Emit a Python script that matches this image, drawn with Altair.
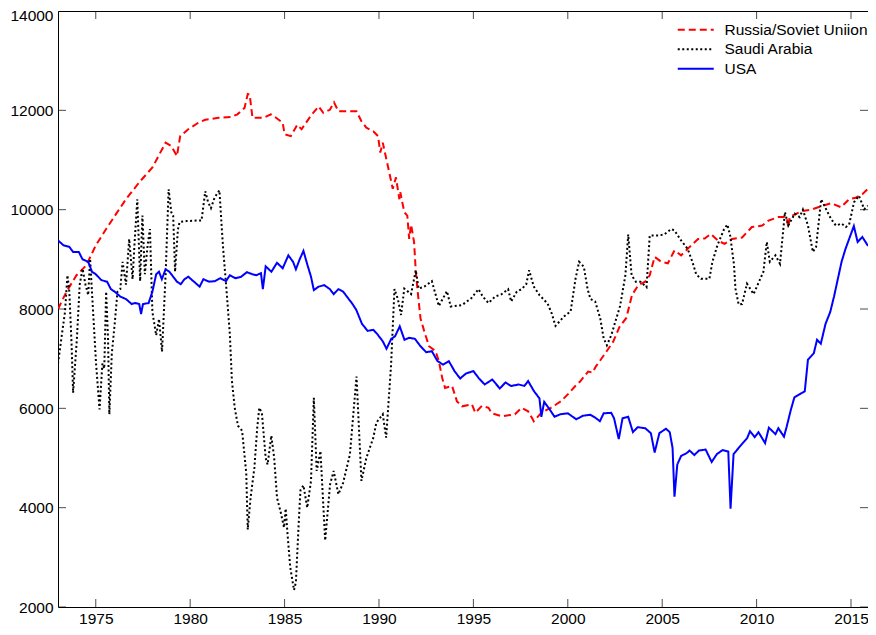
import altair as alt
import pandas as pd

# ---------------- data ----------------
series_names = ["Russia/Soviet Uniion", "Saudi Arabia", "USA"]
series_colors = ["#ff0000", "#000000", "#0000ff"]
series_dashes = [[7, 4], [2, 2.5], [1, 0]]

x_ticks = [1975, 1980, 1985, 1990, 1995, 2000, 2005, 2010, 2015]
y_ticks = [2000, 4000, 6000, 8000, 10000, 12000, 14000]

russia_year = [1973.0, 1973.45, 1973.98, 1974.5, 1975.0, 1975.55, 1976.07, 1976.6, 1977.3, 1978.0,
               1978.7, 1979.0, 1979.3, 1979.47, 1979.9, 1980.43, 1980.8, 1981.5, 1982.2, 1982.5,
               1982.88, 1983.05, 1983.15, 1983.3, 1983.9, 1984.27, 1984.55, 1984.9, 1985.0, 1985.33,
               1985.67, 1985.9, 1986.37, 1986.8, 1987.05, 1987.4, 1987.62, 1987.85, 1988.29, 1988.81,
               1989.07, 1989.33, 1989.7, 1989.95, 1990.07, 1990.2, 1990.47, 1990.73, 1990.9, 1991.08,
               1991.13, 1991.34, 1991.5, 1991.6, 1991.7, 1991.86, 1991.95, 1992.05, 1992.2, 1992.4,
               1992.65, 1993.0, 1993.17, 1993.35, 1993.5, 1993.87, 1994.13, 1994.4, 1994.92, 1995.1,
               1995.45, 1995.8, 1995.97, 1996.5, 1997.2, 1997.55, 1997.9, 1998.2, 1998.6, 1999.1,
               1999.63, 2000.0, 2000.4, 2000.65, 2001.08, 2001.3, 2001.5, 2002.04, 2002.4, 2002.74,
               2003.1, 2003.4, 2003.73, 2004.1, 2004.34, 2004.6, 2004.95, 2005.3, 2005.65, 2006.0,
               2006.35, 2006.9, 2007.25, 2007.57, 2007.95, 2008.3, 2008.7, 2009.23, 2009.75, 2010.3,
               2010.63, 2011.15, 2011.59, 2011.68, 2011.75, 2012.37, 2012.9, 2013.42, 2013.95, 2014.47,
               2014.9, 2015.25, 2015.6, 2015.9]
russia_value = [8000, 8350, 8680, 8880, 9280, 9610, 9910, 10210, 10550, 10850,
                11350, 11280, 11080, 11480, 11620, 11750, 11810, 11850, 11870, 11920,
                12050, 12330, 12320, 11850, 11850, 11920, 11850, 11750, 11520, 11480,
                11710, 11620, 11880, 12080, 11950, 12010, 12160, 11980, 11980, 11980,
                11780, 11650, 11580, 11480, 11150, 11350, 10880, 10420, 10650, 10210,
                10350, 9950, 9880, 9410, 9700, 9340, 8750, 8350, 7810, 7550,
                7250, 7150, 6950, 6610, 6410, 6450, 6140, 6040, 6080, 5910,
                6050, 6010, 5900, 5840, 5880, 6010, 5940, 5740, 5910, 6010,
                6140, 6280, 6450, 6540, 6740, 6720, 6850, 7140, 7340, 7640,
                7820, 8280, 8480, 8550, 8680, 9050, 8950, 8920, 9180, 9080,
                9210, 9410, 9420, 9510, 9380, 9310, 9410, 9440, 9650, 9680,
                9780, 9850, 9850, 9640, 9850, 9970, 10000, 10070, 10130, 10050,
                10210, 10240, 10310, 10420]

saudi_year = [1973.0, 1973.2, 1973.37, 1973.5, 1973.6, 1973.72, 1973.8, 1974.0, 1974.15, 1974.3,
              1974.45, 1974.6, 1974.7, 1974.85, 1975.02, 1975.2, 1975.35, 1975.45, 1975.55, 1975.65,
              1975.72, 1975.85, 1976.0, 1976.15, 1976.3, 1976.42, 1976.6, 1976.77, 1976.95, 1977.05,
              1977.2, 1977.35, 1977.47, 1977.6, 1977.75, 1977.87, 1978.0, 1978.2, 1978.35, 1978.51,
              1978.7, 1978.86, 1979.0, 1979.1, 1979.2, 1979.35, 1979.44, 1979.8, 1980.3, 1980.6,
              1980.8, 1980.95, 1981.1, 1981.3, 1981.55, 1981.67, 1981.75, 1981.92, 1982.1, 1982.21,
              1982.36, 1982.53, 1982.75, 1982.97, 1983.05, 1983.2, 1983.4, 1983.55, 1983.66, 1983.8,
              1984.0, 1984.1, 1984.3, 1984.45, 1984.6, 1984.8, 1984.97, 1985.06, 1985.15, 1985.3,
              1985.5, 1985.6, 1985.75, 1985.84, 1986.0, 1986.2, 1986.4, 1986.55, 1986.7, 1986.9,
              1987.15, 1987.41, 1987.6, 1987.85, 1988.1, 1988.46, 1988.81, 1989.07, 1989.33, 1989.7,
              1989.86, 1990.2, 1990.38, 1990.64, 1990.82, 1991.0, 1991.17, 1991.34, 1991.7, 1991.95,
              1992.1, 1992.4, 1992.8, 1993.17, 1993.6, 1993.8, 1994.4, 1994.9, 1995.27, 1995.5,
              1995.8, 1996.15, 1996.5, 1996.84, 1997.0, 1997.3, 1997.56, 1997.8, 1997.95, 1998.2,
              1998.5, 1998.93, 1999.14, 1999.35, 1999.8, 2000.15, 2000.41, 2000.6, 2000.85, 2001.05,
              2001.2, 2001.45, 2001.72, 2001.9, 2002.07, 2002.3, 2002.77, 2003.05, 2003.2, 2003.38,
              2003.6, 2003.85, 2004.17, 2004.34, 2004.8, 2005.1, 2005.48, 2005.65, 2006.0, 2006.35,
              2006.6, 2006.8, 2007.05, 2007.5, 2007.66, 2007.92, 2008.27, 2008.45, 2008.6, 2008.8,
              2008.88, 2009.05, 2009.23, 2009.49, 2009.84, 2010.36, 2010.54, 2010.7, 2011.0, 2011.24,
              2011.5, 2011.68, 2012.02, 2012.28, 2012.45, 2012.72, 2012.98, 2013.15, 2013.42, 2013.68,
              2013.95, 2014.2, 2014.5, 2014.73, 2014.9, 2015.16, 2015.42, 2015.7, 2015.9]
saudi_value = [6900, 7470, 7940, 8680, 8350, 7280, 6310, 7400, 8490, 8810,
               8500, 8280, 9010, 8000, 6880, 5980, 6900, 6800, 8350, 7400,
               5880, 7100, 7690, 8350, 8400, 8950, 8490, 9410, 8600, 9300,
               10210, 8560, 9880, 8700, 9300, 9610, 7940, 7470, 7800, 7140,
               8700, 10410, 9950, 9880, 8750, 9600, 9750, 9770, 9780, 9780,
               10370, 10150, 10030, 10250, 10390, 9650, 9200, 8400, 7500, 6560,
               6010, 5650, 5550, 4700, 3560, 4200, 4800, 5600, 6010, 5900,
               5000, 4870, 5450, 5000, 4200, 3900, 3600, 3980, 3500, 2800,
               2340, 2500, 3700, 4350, 4450, 4000, 4540, 6210, 4740, 5140,
               3340, 4470, 4740, 4270, 4500, 5070, 6640, 4540, 5000, 5410,
               5710, 5880, 5410, 6870, 8400, 8200, 7880, 8410, 8300, 8780,
               8410, 8450, 8560, 8060, 8360, 8050, 8080, 8220, 8400, 8250,
               8120, 8250, 8300, 8400, 8150, 8350, 8400, 8500, 8780, 8450,
               8280, 8110, 7920, 7660, 7850, 7950, 8610, 8950, 8850, 8400,
               8200, 8150, 7810, 7410, 7270, 7470, 8060, 8680, 9500, 8680,
               8550, 8550, 8440, 9480, 9480, 9500, 9610, 9580, 9380, 9210,
               8950, 8700, 8610, 8610, 8950, 9280, 9600, 9700, 9480, 8900,
               8410, 8090, 8100, 8510, 8300, 8750, 9350, 8950, 9080, 8910,
               9950, 9680, 9920, 9850, 10000, 9680, 9150, 9250, 10210, 10010,
               9810, 9680, 9720, 9650, 9700, 10150, 10280, 10010, 10080]

usa_year = [1973.0, 1973.3, 1973.6, 1973.8, 1974.1, 1974.3, 1974.6, 1974.8, 1975.0, 1975.3,
            1975.6, 1975.8, 1976.0, 1976.3, 1976.6, 1976.9, 1977.1, 1977.3, 1977.4, 1977.5,
            1977.8, 1978.0, 1978.2, 1978.35, 1978.5, 1978.7, 1978.9, 1979.1, 1979.3, 1979.5,
            1979.7, 1979.9, 1980.2, 1980.5, 1980.7, 1981.0, 1981.3, 1981.6, 1981.9, 1982.1,
            1982.4, 1982.7, 1983.0, 1983.3, 1983.5, 1983.75, 1983.85, 1984.0, 1984.3, 1984.6,
            1984.9, 1985.2, 1985.45, 1985.6, 1985.8, 1986.0, 1986.2, 1986.4, 1986.55, 1986.8,
            1987.1, 1987.4, 1987.6, 1987.85, 1988.1, 1988.4, 1988.6, 1988.8, 1989.1, 1989.4,
            1989.7, 1989.9, 1990.2, 1990.4, 1990.65, 1990.85, 1991.1, 1991.35, 1991.6, 1991.9,
            1992.2, 1992.5, 1992.8, 1993.1, 1993.4, 1993.7, 1994.0, 1994.3, 1994.6, 1995.0,
            1995.3, 1995.6, 1996.0, 1996.4, 1996.7, 1997.0, 1997.4, 1997.7, 1997.9, 1998.2,
            1998.5, 1998.6, 1998.75, 1999.0, 1999.3, 1999.6, 2000.0, 2000.45, 2000.8, 2001.2,
            2001.5, 2001.7, 2001.9, 2002.3, 2002.45, 2002.7, 2002.9, 2003.2, 2003.45, 2003.7,
            2004.1, 2004.4, 2004.6, 2004.85, 2005.2, 2005.4, 2005.55, 2005.65, 2005.8, 2006.0,
            2006.3, 2006.45, 2006.7, 2006.95, 2007.3, 2007.62, 2007.9, 2008.2, 2008.5, 2008.62,
            2008.78, 2009.2, 2009.5, 2009.65, 2009.9, 2010.1, 2010.45, 2010.65, 2011.0, 2011.15,
            2011.45, 2011.6, 2011.8, 2012.0, 2012.35, 2012.55, 2012.72, 2013.03, 2013.2, 2013.4,
            2013.65, 2013.9, 2014.1, 2014.3, 2014.5, 2014.7, 2014.9, 2015.15, 2015.35, 2015.6,
            2015.9]
usa_value = [9380, 9280, 9250, 9150, 9150, 9000, 8950, 8750, 8700, 8580,
             8550, 8400, 8350, 8250, 8200, 8100, 8120, 8100, 7900, 8100,
             8120, 8350, 8700, 8750, 8600, 8800, 8750, 8650, 8550, 8500,
             8600, 8650, 8550, 8450, 8600, 8550, 8560, 8620, 8560, 8680,
             8620, 8650, 8740, 8700, 8680, 8720, 8400, 8860, 8750, 8930,
             8820, 9080, 8950, 8800, 9000, 9170, 8900, 8650, 8380, 8450,
             8480, 8400, 8300, 8400, 8350, 8200, 8100, 7980, 7700, 7560,
             7580, 7500, 7350, 7200, 7400, 7450, 7650, 7380, 7420, 7400,
             7250, 7130, 7150, 6950, 6880, 6950, 6750, 6600, 6700, 6750,
             6600, 6480, 6580, 6400, 6520, 6450, 6480, 6450, 6550, 6350,
             6200, 5830, 6130, 6000, 5830, 5880, 5900, 5780, 5850, 5870,
             5800, 5740, 5900, 5910, 5800, 5380, 5800, 5830, 5520, 5620,
             5600, 5500, 5110, 5500, 5590, 5520, 5200, 4220, 4870, 5040,
             5100, 5150, 5060, 5150, 5170, 4920, 5080, 5160, 5130, 3980,
             5080, 5270, 5400, 5540, 5420, 5520, 5300, 5610, 5480, 5600,
             5430, 5640, 5950, 6220, 6300, 6340, 6980, 7110, 7380, 7300,
             7700, 7940, 8250, 8600, 8950, 9200, 9410, 9670, 9350, 9450,
             9270]

# ---------------- build the table ----------------
rows = []
for name, yrs, vals in zip(series_names,
                           [russia_year, saudi_year, usa_year],
                           [russia_value, saudi_value, usa_value]):
    for yr, v in zip(yrs, vals):
        rows.append({"series": name, "year": yr, "value": v})
df = pd.DataFrame(rows)

FONT = "Liberation Sans"
W, H = 810, 596

xscale = alt.Scale(domain=[1973, 2015.9], nice=False, zero=False)
yscale = alt.Scale(domain=[2000, 14000], nice=False, zero=False)

xaxis = alt.Axis(values=x_ticks, format="d", title=None, ticks=False,
                 domain=False, grid=False, labelPadding=4)
yaxis = alt.Axis(values=y_ticks, format="d", title=None, ticks=False,
                 domain=False, grid=False, labelPadding=5,
                 labelOffset={"condition": {"test": "datum.value == 14000", "value": 4},
                              "value": 0})

legend = alt.Legend(
    orient="none", legendX=630, legendY=11, title=None,
    symbolType="M-3,0H3", symbolSize=144, symbolStrokeWidth=2,
    symbolOffset=0, labelOffset=21, padding=0, rowPadding=2.5,
    labelFont=FONT, labelFontSize=15.5, labelColor="black", labelLimit=400,
)

lines = alt.Chart(df).mark_line(strokeWidth=2, clip=True, strokeCap="butt").encode(
    x=alt.X("year:Q", scale=xscale, axis=xaxis),
    y=alt.Y("value:Q", scale=yscale, axis=yaxis),
    color=alt.Color("series:N", scale=alt.Scale(domain=series_names, range=series_colors),
                    legend=legend),
    strokeDash=alt.StrokeDash("series:N", scale=alt.Scale(domain=series_names, range=series_dashes),
                              legend=legend),
)

xt = pd.DataFrame({"year": x_ticks})
yt = pd.DataFrame({"value": y_ticks})

tick_x = alt.X("year:Q", scale=xscale, axis=xaxis)
tick_y = alt.Y("value:Q", scale=yscale, axis=yaxis)

bottom_ticks = alt.Chart(xt).mark_tick(orient="vertical", size=16, thickness=1,
                                       color="black", clip=True).encode(x=tick_x, y=alt.value(H))
top_ticks = alt.Chart(xt).mark_tick(orient="vertical", size=16, thickness=1,
                                    color="black", clip=True).encode(x=tick_x, y=alt.value(0))
left_ticks = alt.Chart(yt).mark_tick(orient="horizontal", size=16, thickness=1,
                                     color="black", clip=True).encode(y=tick_y, x=alt.value(0))
right_ticks = alt.Chart(yt).mark_tick(orient="horizontal", size=16, thickness=1,
                                      color="black", clip=True).encode(y=tick_y, x=alt.value(W))

chart = alt.layer(lines, bottom_ticks, top_ticks, left_ticks, right_ticks).properties(
    width=W, height=H,
    padding={"left": 50, "top": 3, "right": 0, "bottom": 20},
    autosize="none",
).configure_view(
    stroke="black", strokeWidth=1
).configure_axis(
    labelFont=FONT, labelFontSize=15.5, labelColor="black"
)

chart.save("out.html", embed_options={"renderer": "svg", "actions": False})
